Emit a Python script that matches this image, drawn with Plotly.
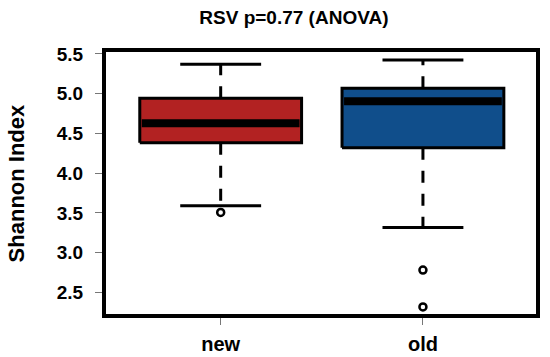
import plotly.graph_objects as go

# ---- data ----
groups = ["new", "old"]
q1 = [4.383, 4.320]
median = [4.628, 4.906]
q3 = [4.942, 5.068]
lower_whisker = [3.589, 3.317]
upper_whisker = [5.370, 5.424]
outliers = [[3.506], [2.780, 2.316]]
box_colors = ["#B22222", "#104E8B"]
y_tick_vals = [2.5, 3.0, 3.5, 4.0, 4.5, 5.0, 5.5]
y_tick_text = ["2.5", "3.0", "3.5", "4.0", "4.5", "5.0", "5.5"]
title_text = "RSV p=0.77 (ANOVA)"
y_label = "Shannon Index"

FONT = "Liberation Sans, Arial, sans-serif"
BOX_HALF = 0.4
CAP_HALF = 0.2

fig = go.Figure()

for i, g in enumerate(groups):
    xc = i + 1
    for a, b in ((q1[i], lower_whisker[i]), (q3[i], upper_whisker[i])):
        fig.add_trace(go.Scatter(
            x=[xc, xc], y=[a, b], mode="lines",
            line=dict(color="black", width=3, dash="12px,11px"),
            showlegend=False, hoverinfo="skip"))
    for v in (lower_whisker[i], upper_whisker[i]):
        fig.add_trace(go.Scatter(
            x=[xc - CAP_HALF, xc + CAP_HALF], y=[v, v], mode="lines",
            line=dict(color="black", width=3),
            showlegend=False, hoverinfo="skip"))
    fig.add_trace(go.Scatter(
        x=[xc - BOX_HALF, xc + BOX_HALF, xc + BOX_HALF, xc - BOX_HALF, xc - BOX_HALF],
        y=[q1[i], q1[i], q3[i], q3[i], q1[i]],
        mode="lines", fill="toself", fillcolor=box_colors[i],
        line=dict(color="black", width=3),
        showlegend=False, name=g))
    fig.add_trace(go.Scatter(
        x=[xc - BOX_HALF + 0.01, xc + BOX_HALF - 0.01], y=[median[i], median[i]],
        mode="lines", line=dict(color="black", width=8),
        showlegend=False, hoverinfo="skip"))
    if outliers[i]:
        fig.add_trace(go.Scatter(
            x=[xc] * len(outliers[i]), y=outliers[i], mode="markers",
            marker=dict(symbol="circle-open", size=7, color="black",
                        line=dict(width=2.5, color="black")),
            showlegend=False))

fig.update_layout(
    template="none",
    width=550, height=357,
    margin=dict(l=106, r=14, t=52, b=43, autoexpand=False),
    paper_bgcolor="white", plot_bgcolor="white",
    font=dict(family=FONT, color="black", weight="bold"),
    title=dict(text=title_text, x=0.437, xref="paper", xanchor="center",
               y=1 - 17 / 357, yref="container", yanchor="middle",
               font=dict(family=FONT, size=19, color="black", weight="bold")),
    xaxis=dict(range=[0.433, 2.559], tickvals=[1, 2], ticktext=groups,
               automargin=False,
               showgrid=False, zeroline=False,
               showline=True, linecolor="black", linewidth=4, mirror=True,
               ticks="outside", ticklen=7, tickwidth=1, tickcolor="#777",
               ticklabelstandoff=2,
               tickfont=dict(family=FONT, size=20, color="black", weight="bold")),
    yaxis=dict(range=[2.227, 5.525], tickvals=y_tick_vals, ticktext=y_tick_text,
               automargin=False,
               showgrid=False, zeroline=False,
               showline=True, linecolor="black", linewidth=4, mirror=True,
               ticks="outside", ticklen=7, tickwidth=1, tickcolor="#777",
               ticklabelstandoff=8,
               tickfont=dict(family=FONT, size=19, color="black", weight="bold")),
    annotations=[dict(text=y_label, xref="paper", yref="paper",
                      x=(17 - 106.5) / 429.5, y=0.5, xanchor="center", yanchor="middle",
                      textangle=-90, showarrow=False,
                      font=dict(family=FONT, size=22, color="black", weight="bold"))],
)

fig.write_html("out.html", config={"displayModeBar": False},
               post_script="document.body.style.margin='0px';")
